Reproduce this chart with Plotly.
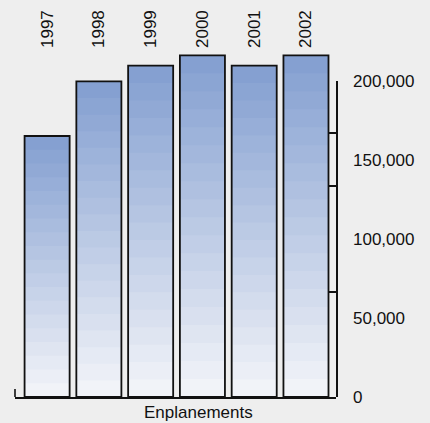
import plotly.graph_objects as go

years = ["1997", "1998", "1999", "2000", "2001", "2002"]
enplanements = [165000, 199500, 209500, 216000, 209500, 216000]
y_ticks = [0, 50000, 100000, 150000, 200000]
box_ticks = [0, 66667, 133333, 166667, 200000]
axis_title = "Enplanements"

N_BANDS = 19
top_rgb = (0x82, 0x9e, 0xd0)
bottom_rgb = (0xf4, 0xf5, 0xf9)


def band_color(i):
    t = (i + 0.5) / N_BANDS
    r, g, b = [round(bottom_rgb[k] + (top_rgb[k] - bottom_rgb[k]) * t) for k in range(3)]
    return f"rgb({r},{g},{b})"


fig = go.Figure()
# gradient: draw nested bars from full height (darkest) down to the lowest band
for i in reversed(range(N_BANDS)):
    fig.add_trace(go.Bar(
        x=years,
        y=[v * (i + 1) / N_BANDS for v in enplanements],
        marker=dict(color=band_color(i), line=dict(width=0)),
        hoverinfo="skip", showlegend=False,
    ))

fig.add_trace(go.Bar(
    x=years, y=enplanements,
    marker=dict(color="rgba(0,0,0,0)", line=dict(color="#111111", width=1.8)),
    showlegend=False,
))

# helper invisible traces so auxiliary axes render
fig.add_trace(go.Scatter(x=[0], y=[0], xaxis="x2", yaxis="y", mode="markers",
                         marker=dict(opacity=0), hoverinfo="skip", showlegend=False))
fig.add_trace(go.Scatter(x=[years[0]], y=[0], xaxis="x", yaxis="y2", mode="markers",
                         marker=dict(opacity=0), hoverinfo="skip", showlegend=False))

xr = [-0.62, 5.58]
ymax = 220000

# small left tick stub at the start of the baseline
fig.add_shape(type="line", xref="paper", yref="paper", x0=0, x1=0, y0=0, y1=8 / 348,
              line=dict(color="#111111", width=1.6))

fig.add_annotation(text=axis_title, xref="paper", yref="paper",
                   x=(198.3 - 15) / 321, y=-15 / 348, xanchor="center", yanchor="middle",
                   showarrow=False, font=dict(size=17))

fig.update_layout(
    width=430, height=423,
    margin=dict(l=15, r=94, t=49, b=26),
    paper_bgcolor="#eeeeee", plot_bgcolor="rgba(0,0,0,0)",
    barmode="overlay", bargap=0.13,
    font=dict(family="Liberation Sans, Arial, sans-serif", size=17, color="#111111"),
    xaxis=dict(type="category", range=xr, side="top", tickangle=-90,
               showline=False, ticks="", showgrid=False, zeroline=False,
               ticklabelstandoff=0, automargin=False),
    xaxis2=dict(overlaying="x", side="bottom", anchor="y", range=xr,
                showline=True, linecolor="#111111", linewidth=1.6,
                ticks="", showticklabels=False, showgrid=False,
                zeroline=False, automargin=False),
    yaxis=dict(range=[0, ymax], side="right", tickvals=y_ticks, tickformat=",",
               ticks="", showline=False, showgrid=False, zeroline=False,
               ticklabelstandoff=16, automargin=False),
    yaxis2=dict(domain=[0, box_ticks[-1] / ymax], range=[0, box_ticks[-1]],
                anchor="x", side="right", showline=True, linecolor="#111111",
                linewidth=1.6, ticks="inside", ticklen=8, tickwidth=1.6,
                tickcolor="#111111", tickvals=box_ticks, showticklabels=False,
                showgrid=False, zeroline=False, automargin=False),
)

fig.write_html("out.html", config={"displayModeBar": False},
               post_script="document.body.style.margin='0';")
